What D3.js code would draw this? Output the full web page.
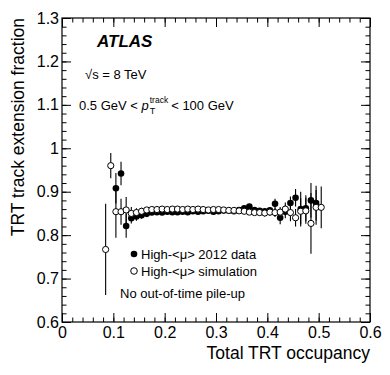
<!DOCTYPE html>
<html>
<head>
<meta charset="utf-8">
<script src="https://cdn.jsdelivr.net/npm/d3@7"></script>
<style>
  html, body { margin: 0; padding: 0; background: #fff; }
  svg { display: block; font-family: "Liberation Sans", Arial, Helvetica, sans-serif; }
</style>
</head>
<body>
<svg id="chart" width="390" height="375"></svg>
<script>
// ---- Data ----
const dataX = [0.105,0.115,0.125,0.135,0.145,0.155,0.165,0.175,0.185,0.195,0.205,0.215,0.225,0.235,0.245,0.255,0.265,0.275,0.285,0.295,0.305,0.315,0.325,0.335,0.345,0.355,0.365,0.375,0.385,0.395,0.405,0.415,0.425,0.435,0.445,0.455,0.465,0.475,0.485,0.495];
const dataY = [0.908,0.942,0.821,0.839,0.843,0.846,0.849,0.852,0.853,0.852,0.854,0.853,0.853,0.854,0.853,0.855,0.854,0.855,0.856,0.854,0.855,0.857,0.856,0.855,0.858,0.862,0.866,0.858,0.856,0.855,0.857,0.872,0.840,0.854,0.874,0.886,0.860,0.862,0.880,0.874];
const dataErr = [0.035,0.027,0.027,0.012,0.010,0.008,0.006,0.005,0.004,0.004,0.004,0.004,0.004,0.004,0.004,0.004,0.004,0.004,0.004,0.004,0.004,0.004,0.004,0.004,0.004,0.005,0.005,0.005,0.006,0.006,0.007,0.012,0.015,0.015,0.015,0.020,0.040,0.030,0.040,0.040];

const simX = [0.085,0.095,0.105,0.115,0.125,0.135,0.145,0.155,0.165,0.175,0.185,0.195,0.205,0.215,0.225,0.235,0.245,0.255,0.265,0.275,0.285,0.295,0.305,0.315,0.325,0.335,0.345,0.355,0.365,0.375,0.385,0.395,0.405,0.415,0.425,0.435,0.445,0.455,0.465,0.475,0.485,0.495,0.505];
const simY = [0.767,0.960,0.854,0.854,0.858,0.850,0.852,0.855,0.858,0.859,0.859,0.860,0.859,0.860,0.860,0.859,0.860,0.859,0.860,0.859,0.858,0.859,0.859,0.858,0.857,0.857,0.856,0.855,0.853,0.852,0.852,0.851,0.853,0.852,0.853,0.860,0.852,0.840,0.855,0.856,0.827,0.864,0.864];
const simErr = [0.105,0.029,0.060,0.030,0.030,0.015,0.010,0.008,0.006,0.005,0.004,0.004,0.004,0.004,0.004,0.004,0.004,0.004,0.004,0.004,0.004,0.004,0.004,0.004,0.004,0.005,0.005,0.005,0.006,0.006,0.007,0.008,0.009,0.010,0.012,0.015,0.020,0.020,0.030,0.030,0.070,0.040,0.048];

const xMajor = [0, 0.1, 0.2, 0.3, 0.4, 0.5, 0.6];
const yMajor = [0.6, 0.7, 0.8, 0.9, 1.0, 1.1, 1.2, 1.3];
const xMinor = d3.range(0, 0.6001, 0.02);
const yMinor = d3.range(0.6, 1.3001, 0.02);

const legendLabels = ["High-<\u03bc> 2012 data", "High-<\u03bc> simulation"];

// ---- Layout ----
const L = 62, R = 370, T = 18, B = 322;
const x = d3.scaleLinear().domain([0, 0.6]).range([L, R]);
const y = d3.scaleLinear().domain([0.6, 1.3]).range([B, T]);
const svg = d3.select("#chart");
const fmt = d => String(+d.toFixed(1));

function styleAxis(g) {
  g.select(".domain").remove();
  g.selectAll(".tick line").attr("stroke", "#000").attr("stroke-width", 1);
  g.selectAll(".tick text").attr("fill", "#000").attr("font-size", 16);
}

// bottom
svg.append("g").attr("transform", `translate(0,${B})`)
  .call(d3.axisBottom(x).tickValues(xMinor).tickSize(-4.5).tickFormat(""))
  .call(styleAxis);
svg.append("g").attr("transform", `translate(0,${B})`)
  .call(d3.axisBottom(x).tickValues(xMajor).tickSize(-9).tickPadding(5).tickFormat(fmt))
  .call(styleAxis);
// top
svg.append("g").attr("transform", `translate(0,${T})`)
  .call(d3.axisTop(x).tickValues(xMinor).tickSize(-4.5).tickFormat(""))
  .call(styleAxis);
svg.append("g").attr("transform", `translate(0,${T})`)
  .call(d3.axisTop(x).tickValues(xMajor).tickSize(-9).tickFormat(""))
  .call(styleAxis);
// left
svg.append("g").attr("transform", `translate(${L},0)`)
  .call(d3.axisLeft(y).tickValues(yMinor).tickSize(-4.5).tickFormat(""))
  .call(styleAxis);
svg.append("g").attr("transform", `translate(${L},0)`)
  .call(d3.axisLeft(y).tickValues(yMajor).tickSize(-9).tickPadding(3).tickFormat(fmt))
  .call(styleAxis);
// right
svg.append("g").attr("transform", `translate(${R},0)`)
  .call(d3.axisRight(y).tickValues(yMinor).tickSize(-4.5).tickFormat(""))
  .call(styleAxis);
svg.append("g").attr("transform", `translate(${R},0)`)
  .call(d3.axisRight(y).tickValues(yMajor).tickSize(-9).tickFormat(""))
  .call(styleAxis);

// frame
svg.append("rect").attr("x", L).attr("y", T).attr("width", R - L).attr("height", B - T)
  .attr("fill", "none").attr("stroke", "#000").attr("stroke-width", 1.2);

// axis titles
svg.append("text").attr("x", R).attr("y", 359).attr("text-anchor", "end")
  .attr("font-size", 17.5).text("Total TRT occupancy");
svg.append("text").attr("transform", `translate(24,${T}) rotate(-90)`).attr("text-anchor", "end")
  .attr("font-size", 17.5).text("TRT track extension fraction");

// ---- Points ----
const data = dataX.map((v, i) => ({x: v, y: dataY[i], e: dataErr[i]}));
const sim = simX.map((v, i) => ({x: v, y: simY[i], e: simErr[i]}));

function drawSeries(arr, filled) {
  const g = svg.append("g");
  g.selectAll("line").data(arr).join("line")
    .attr("x1", d => x(d.x)).attr("x2", d => x(d.x))
    .attr("y1", d => y(d.y - d.e)).attr("y2", d => y(d.y + d.e))
    .attr("stroke", "#000").attr("stroke-width", 1.1);
  g.selectAll("circle").data(arr).join("circle")
    .attr("cx", d => x(d.x)).attr("cy", d => y(d.y))
    .attr("r", filled ? 3.3 : 3.1)
    .attr("fill", filled ? "#000" : "#fff")
    .attr("stroke", "#000").attr("stroke-width", filled ? 0 : 1);
}
drawSeries(data, true);
drawSeries(sim, false);

// ---- Labels ----
svg.append("text").attr("x", 97).attr("y", 47).attr("font-size", 17)
  .attr("font-weight", "bold").attr("font-style", "italic").text("ATLAS");
svg.append("text").attr("x", 85).attr("y", 79).attr("font-size", 13).text("\u221As = 8 TeV");

const ptY = 110, ptX = 79;
const t1 = svg.append("text").attr("x", ptX).attr("y", ptY).attr("font-size", 13).text("0.5 GeV <\u00a0");
const w1 = t1.node().getComputedTextLength();
const tp = svg.append("text").attr("x", ptX + w1).attr("y", ptY).attr("font-size", 13)
  .attr("font-style", "italic").text("p");
const wp = tp.node().getComputedTextLength();
const ts = svg.append("text").attr("x", ptX + w1 + wp + 1).attr("y", ptY - 7).attr("font-size", 8.5).text("track");
const ws = ts.node().getComputedTextLength();
svg.append("text").attr("x", ptX + w1 + wp + 1).attr("y", ptY + 4).attr("font-size", 9).text("T");
svg.append("text").attr("x", ptX + w1 + wp + ws + 4).attr("y", ptY).attr("font-size", 13).text("< 100 GeV");

// legend
const legY = [254, 271];
legendLabels.forEach((lab, i) => {
  svg.append("circle").attr("cx", 134).attr("cy", legY[i]).attr("r", 3.3)
    .attr("fill", i === 0 ? "#000" : "#fff").attr("stroke", "#000").attr("stroke-width", i === 0 ? 0 : 1);
  svg.append("text").attr("x", 141).attr("y", legY[i] + 4.5).attr("font-size", 13).text(lab);
});
svg.append("text").attr("x", 120).attr("y", 298).attr("font-size", 13).text("No out-of-time pile-up");
</script>
</body>
</html>
